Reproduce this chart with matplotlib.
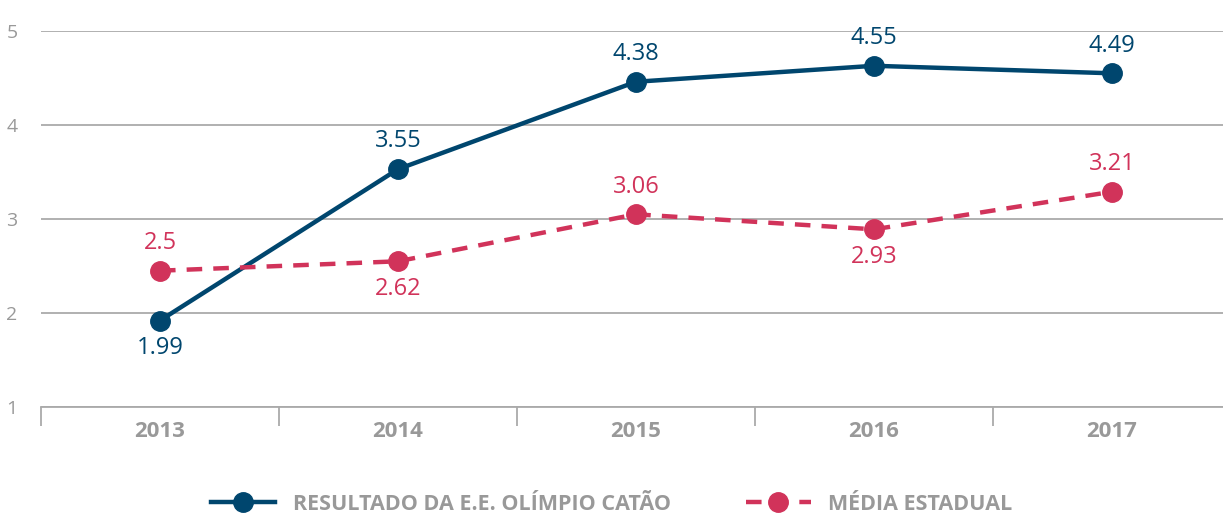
import matplotlib.pyplot as plt

anos = ['2013', '2014', '2015', '2016', '2017']
# posicoes como desenhadas no grafico original
escola = [1.92, 3.53, 4.46, 4.63, 4.55]
escola_rotulos = ['1.99', '3.55', '4.38', '4.55', '4.49']
escola_lado = [-1, 1, 1, 1, 1]
estado = [2.45, 2.55, 3.05, 2.89, 3.29]
estado_rotulos = ['2.5', '2.62', '3.06', '2.93', '3.21']
estado_lado = [1, -1, 1, -1, 1]

azul = '#00466e'
vermelho = '#d1335a'
cinza = '#999999'

plt.rcParams['font.family'] = ['Open Sans', 'DejaVu Sans']

fig = plt.figure(figsize=(12.23, 5.18), dpi=100)
ax = fig.add_axes([41/1223, 111/518, 1190/1223, 376/518])

x = list(range(len(anos)))
ax.plot(x, escola, color=azul, lw=3.2, marker='o', ms=14, zorder=3,
        label='RESULTADO DA E.E. OLÍMPIO CATÃO')
ax.plot(x, estado, color=vermelho, lw=3.2, ls=(0, (3.5, 2.5)), marker='o', ms=14,
        zorder=3, label='MÉDIA ESTADUAL')

for xi, v, r, s in zip(x, escola, escola_rotulos, escola_lado):
    ax.annotate(r, (xi, v), xytext=(0, 20*s), textcoords='offset points',
                ha='center', va='center', color=azul, fontsize=17)
for xi, v, r, s in zip(x, estado, estado_rotulos, estado_lado):
    ax.annotate(r, (xi, v), xytext=(0, 20*s), textcoords='offset points',
                ha='center', va='center', color=vermelho, fontsize=17)

ax.set_xlim(-0.5, 4.5)
ax.set_ylim(1, 5)
ax.set_yticks([1, 2, 3, 4, 5])
ax.yaxis.grid(True, color='#aaaaaa', lw=1.3)
ax.set_axisbelow(True)
for s in ['top', 'right', 'left']:
    ax.spines[s].set_visible(False)
ax.spines['bottom'].set_color('#aaaaaa')
ax.spines['bottom'].set_linewidth(1.3)
ax.tick_params(axis='y', length=0, pad=17, labelsize=14, labelcolor=cinza)

ax.set_xticks(x)
ax.set_xticklabels(anos, fontsize=16, fontweight='bold', color=cinza)
ax.tick_params(axis='x', length=0, pad=10)
ax.set_xticks([-0.5, 0.5, 1.5, 2.5, 3.5, 4.5], minor=True)
ax.tick_params(axis='x', which='minor', length=14, color='#aaaaaa', width=1.3, direction='out')

leg = fig.legend(loc='center', bbox_to_anchor=(0.5, 14/518), ncol=2, frameon=False,
                 handlelength=3.0, columnspacing=3.5, fontsize=15.5)
for t in leg.get_texts():
    t.set_color(cinza)
    t.set_fontweight('bold')

fig.savefig('out.png', dpi=100)
